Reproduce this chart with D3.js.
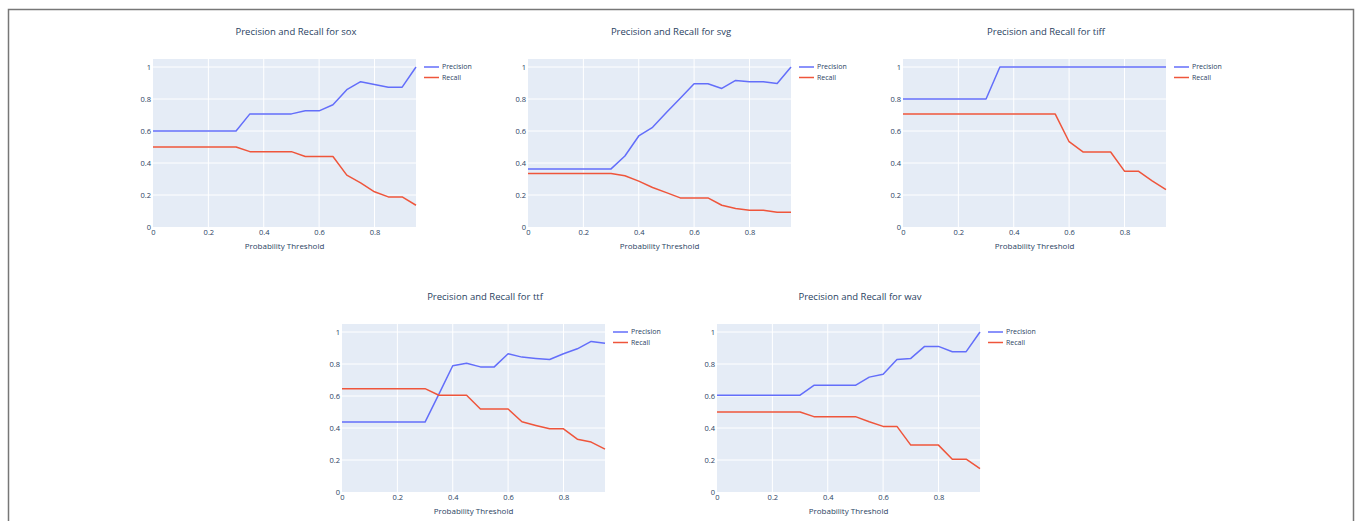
<!DOCTYPE html>
<html>
<head>
<meta charset="utf-8">
<script src="https://cdn.jsdelivr.net/npm/d3@7"></script>
<style>
  body { margin: 0; background: #fff; }
  svg { display: block; }
</style>
</head>
<body>
<svg id="chart" width="1356" height="521"></svg>
<script>
// thresholds used on every panel
const thresholds = [0, 0.05, 0.1, 0.15, 0.2, 0.25, 0.3, 0.35, 0.4, 0.45, 0.5, 0.55, 0.6, 0.65, 0.7, 0.75, 0.8, 0.85, 0.9, 0.95];

const formats = ["sox", "svg", "tiff", "ttf", "wav"];

const soxPrecision = [0.6, 0.6, 0.6, 0.6, 0.6, 0.6, 0.6, 0.707, 0.707, 0.707, 0.707, 0.726, 0.726, 0.764, 0.858, 0.908, 0.891, 0.874, 0.874, 1];
const soxRecall = [0.5, 0.5, 0.5, 0.5, 0.5, 0.5, 0.5, 0.471, 0.471, 0.471, 0.471, 0.441, 0.441, 0.441, 0.324, 0.276, 0.22, 0.188, 0.188, 0.136];

const svgPrecision = [0.363, 0.363, 0.363, 0.363, 0.363, 0.363, 0.363, 0.444, 0.569, 0.623, 0.715, 0.805, 0.895, 0.895, 0.866, 0.916, 0.908, 0.908, 0.897, 1];
const svgRecall = [0.335, 0.335, 0.335, 0.335, 0.335, 0.335, 0.335, 0.32, 0.287, 0.247, 0.215, 0.182, 0.182, 0.182, 0.136, 0.115, 0.105, 0.105, 0.092, 0.092];

const tiffPrecision = [0.8, 0.8, 0.8, 0.8, 0.8, 0.8, 0.8, 1, 1, 1, 1, 1, 1, 1, 1, 1, 1, 1, 1, 1];
const tiffRecall = [0.706, 0.706, 0.706, 0.706, 0.706, 0.706, 0.706, 0.706, 0.706, 0.706, 0.706, 0.706, 0.533, 0.469, 0.469, 0.469, 0.349, 0.349, 0.289, 0.234];

const ttfPrecision = [0.437, 0.437, 0.437, 0.437, 0.437, 0.437, 0.437, 0.612, 0.789, 0.805, 0.782, 0.782, 0.864, 0.843, 0.835, 0.828, 0.864, 0.895, 0.941, 0.929];
const ttfRecall = [0.646, 0.646, 0.646, 0.646, 0.646, 0.646, 0.646, 0.605, 0.605, 0.605, 0.519, 0.519, 0.519, 0.439, 0.416, 0.395, 0.395, 0.33, 0.312, 0.268];

const wavPrecision = [0.605, 0.605, 0.605, 0.605, 0.605, 0.605, 0.605, 0.667, 0.667, 0.667, 0.667, 0.718, 0.736, 0.828, 0.835, 0.91, 0.91, 0.877, 0.877, 1];
const wavRecall = [0.5, 0.5, 0.5, 0.5, 0.5, 0.5, 0.5, 0.471, 0.471, 0.471, 0.471, 0.439, 0.41, 0.41, 0.293, 0.293, 0.293, 0.205, 0.205, 0.146];

const xTicks = [0, 0.2, 0.4, 0.6, 0.8];
const yTicks = [0, 0.2, 0.4, 0.6, 0.8, 1];

const seriesByFormat = {
  sox: [soxPrecision, soxRecall],
  svg: [svgPrecision, svgRecall],
  tiff: [tiffPrecision, tiffRecall],
  ttf: [ttfPrecision, ttfRecall],
  wav: [wavPrecision, wavRecall]
};

const names = ["Precision", "Recall"];
const colors = ["#636efa", "#ef553b"];
const ink = "#2a3f5f";

// plot area corners (left, top) for each panel
const panels = [
  {x: 153, y: 59}, {x: 528, y: 59}, {x: 903, y: 59},
  {x: 342, y: 324}, {x: 717, y: 324}
];
const pw = 263, ph = 168;

const svg = d3.select("#chart");

// outer frame
svg.append("path")
  .attr("d", "M8.5,530 V9.5 H1353.5 V530")
  .attr("fill", "none")
  .attr("stroke", "#777")
  .attr("stroke-width", 1.5);

formats.forEach((fmt, i) => {
  const p = panels[i];
  const g = svg.append("g").attr("transform", `translate(${p.x},${p.y})`);

  const x = d3.scaleLinear().domain([0, 0.95]).range([0, pw]);
  const y = d3.scaleLinear().domain([0, 1.05]).range([ph, 0]);

  g.append("rect")
    .attr("width", pw).attr("height", ph)
    .attr("fill", "#e5ecf6");

  // grid
  g.selectAll(".gx").data(xTicks.slice(1)).join("line")
    .attr("x1", d => x(d)).attr("x2", d => x(d))
    .attr("y1", 0).attr("y2", ph)
    .attr("stroke", "#fff").attr("stroke-width", 1);
  g.selectAll(".gy").data(yTicks.slice(1)).join("line")
    .attr("y1", d => y(d)).attr("y2", d => y(d))
    .attr("x1", 0).attr("x2", pw)
    .attr("stroke", "#fff").attr("stroke-width", 1);

  // axes
  const xAxis = g.append("g").attr("transform", `translate(0,${ph})`)
    .call(d3.axisBottom(x).tickValues(xTicks).tickSize(0).tickPadding(3)
      .tickFormat(d => d === 0 ? "0" : d3.format(".1f")(d)));
  const yAxis = g.append("g")
    .call(d3.axisLeft(y).tickValues(yTicks).tickSize(0).tickPadding(2)
      .tickFormat(d => (d === 0 || d === 1) ? String(d) : d3.format(".1f")(d)));
  [xAxis, yAxis].forEach(a => {
    a.select(".domain").remove();
    a.selectAll("text")
      .attr("fill", ink)
      .style("font-family", "'Open Sans', sans-serif")
      .style("font-size", "7.5px");
  });

  // lines
  const line = d3.line().x((d, k) => x(thresholds[k])).y(d => y(d));
  seriesByFormat[fmt].forEach((vals, s) => {
    g.append("path")
      .datum(vals)
      .attr("d", line)
      .attr("fill", "none")
      .attr("stroke", colors[s])
      .attr("stroke-width", 1.5)
      .attr("stroke-linejoin", "round");
  });

  // legend
  names.forEach((n, s) => {
    const ly = 8 + s * 10.5;
    g.append("line")
      .attr("x1", pw + 8).attr("x2", pw + 23)
      .attr("y1", ly).attr("y2", ly)
      .attr("stroke", colors[s]).attr("stroke-width", 1.5);
    g.append("text")
      .attr("x", pw + 26).attr("y", ly)
      .attr("dy", "0.35em")
      .attr("fill", ink)
      .style("font-family", "'Open Sans', sans-serif")
      .style("font-size", "7px")
      .text(n);
  });

  // titles
  g.append("text")
    .attr("x", 143).attr("y", -27)
    .attr("text-anchor", "middle")
    .attr("dy", "0.35em")
    .attr("fill", ink)
    .style("font-family", "'Open Sans', sans-serif")
    .style("font-size", "9.5px")
    .text("Precision and Recall for " + fmt);

  g.append("text")
    .attr("x", pw / 2).attr("y", ph + 19)
    .attr("text-anchor", "middle")
    .attr("dy", "0.35em")
    .attr("fill", ink)
    .style("font-family", "'Open Sans', sans-serif")
    .style("font-size", "8px")
    .text("Probability Threshold");
});
</script>
</body>
</html>
